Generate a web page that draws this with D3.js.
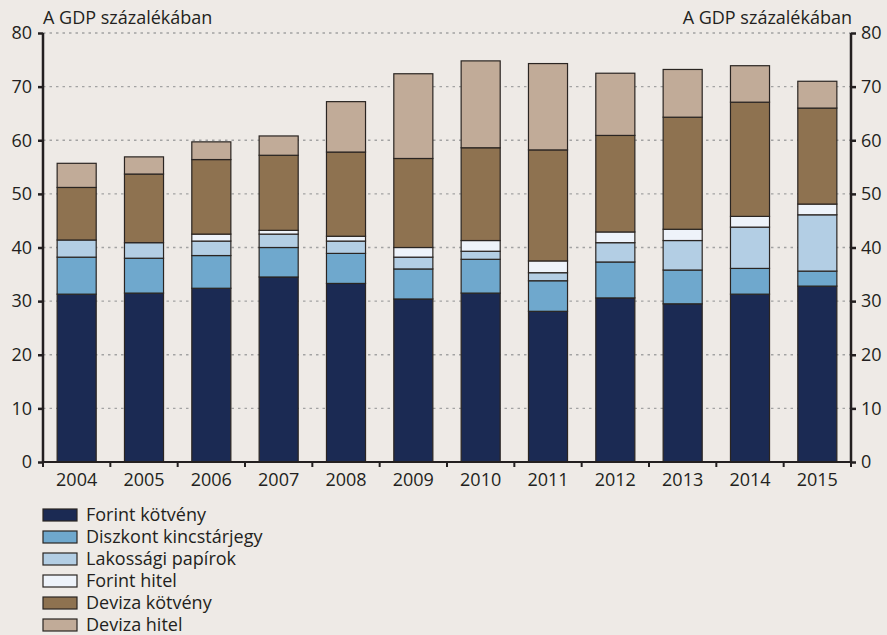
<!DOCTYPE html>
<html>
<head>
<meta charset="utf-8">
<script src="https://cdn.jsdelivr.net/npm/d3@7"></script>
<style>
  body { margin: 0; background: #eeeae6; }
  svg { display: block; }
</style>
</head>
<body>
<svg width="887" height="635" font-family="Open Sans, Noto Sans, sans-serif" font-size="18"></svg>
<script>
const years = ["2004", "2005", "2006", "2007", "2008", "2009", "2010", "2011", "2012", "2013", "2014", "2015"];
const seriesNames = ["Forint kötvény", "Diszkont kincstárjegy", "Lakossági papírok", "Forint hitel", "Deviza kötvény", "Deviza hitel"];
const forintKotveny = [31.3, 31.5, 32.4, 34.5, 33.3, 30.4, 31.5, 28.1, 30.6, 29.5, 31.3, 32.8];
const diszkont = [6.9, 6.5, 6.1, 5.5, 5.6, 5.6, 6.3, 5.7, 6.7, 6.3, 4.8, 2.8];
const lakossagi = [3.2, 2.9, 2.7, 2.5, 2.3, 2.2, 1.5, 1.5, 3.6, 5.5, 7.7, 10.5];
const forintHitel = [0, 0, 1.3, 0.7, 0.9, 1.8, 2.0, 2.2, 2.0, 2.1, 2.0, 2.0];
const devizaKotveny = [9.8, 12.8, 13.9, 14.0, 15.7, 16.6, 17.3, 20.7, 18.0, 20.9, 21.3, 17.9];
const devizaHitel = [4.5, 3.2, 3.3, 3.6, 9.4, 15.8, 16.2, 16.1, 11.6, 8.9, 6.8, 5.0];
const yTicks = [0, 10, 20, 30, 40, 50, 60, 70, 80];
const unitLabel = "A GDP százalékában";

const colors = ["#1b2a53", "#6fa8cd", "#b3cee4", "#eef3fa", "#8e7250", "#c1ab98"];
const ink = "#231f20";

const svg = d3.select("svg");
const margin = { top: 33, right: 36, bottom: 173, left: 43 };
const width = +svg.attr("width");
const height = +svg.attr("height");
const innerWidth = width - margin.left - margin.right;
const innerHeight = height - margin.top - margin.bottom;

const allSeries = [forintKotveny, diszkont, lakossagi, forintHitel, devizaKotveny, devizaHitel];
const data = years.map((y, i) => {
  const row = { year: y };
  seriesNames.forEach((s, k) => { row[s] = allSeries[k][i]; });
  return row;
});
const stacked = d3.stack().keys(seriesNames)(data);

const xScale = d3.scaleBand().domain(years).range([0, innerWidth]).paddingInner(0.42).paddingOuter(0.21);
const xBoundary = d3.scaleLinear().domain([0, years.length]).range([0, innerWidth]);
const yScale = d3.scaleLinear().domain([0, 80]).range([innerHeight, 0]);

const g = svg.append("g").attr("transform", `translate(${margin.left},${margin.top})`);

// gridlines
g.append("g")
  .selectAll("line")
  .data(yTicks.filter((d) => d > 0))
  .join("line")
  .attr("x1", 0)
  .attr("x2", innerWidth)
  .attr("y1", (d) => yScale(d))
  .attr("y2", (d) => yScale(d))
  .attr("stroke", "#a3a3a3")
  .attr("stroke-width", 1.3)
  .attr("stroke-dasharray", "2.5,4");

// bars
g.append("g")
  .selectAll("g")
  .data(stacked)
  .join("g")
  .attr("fill", (d, i) => colors[i])
  .selectAll("rect")
  .data((d) => d.filter((p) => p[1] - p[0] > 0))
  .join("rect")
  .attr("x", (d) => xScale(d.data.year))
  .attr("width", xScale.bandwidth())
  .attr("y", (d) => yScale(d[1]))
  .attr("height", (d) => yScale(d[0]) - yScale(d[1]))
  .attr("stroke", "#2a2522")
  .attr("stroke-width", 1.2);

// left and right axes
const yAxisL = g.append("g")
  .call(d3.axisLeft(yScale).tickValues(yTicks).tickSize(5).tickPadding(6));
const yAxisR = g.append("g")
  .attr("transform", `translate(${innerWidth},0)`)
  .call(d3.axisRight(yScale).tickValues(yTicks).tickSize(5).tickPadding(5));
[yAxisL, yAxisR].forEach((ax) => {
  ax.attr("font-size", null).attr("font-family", null);
  ax.select(".domain").attr("stroke", ink).attr("stroke-width", 2.5).attr("d", `M0,0V${innerHeight}`);
  ax.selectAll(".tick line").attr("stroke", ink).attr("stroke-width", 2.5);
  ax.selectAll(".tick text").attr("fill", ink);
});

// x axis
const xAxisG = g.append("g").attr("transform", `translate(0,${innerHeight})`);
xAxisG.append("line")
  .attr("x1", 0).attr("x2", innerWidth)
  .attr("stroke", ink).attr("stroke-width", 2);
xAxisG.selectAll("line.tick")
  .data(d3.range(years.length + 1))
  .join("line")
  .attr("class", "tick")
  .attr("x1", (d) => xBoundary(d))
  .attr("x2", (d) => xBoundary(d))
  .attr("y1", 0)
  .attr("y2", 5)
  .attr("stroke", ink)
  .attr("stroke-width", 2);
xAxisG.selectAll("text")
  .data(years)
  .join("text")
  .attr("x", (d) => xScale(d) + xScale.bandwidth() / 2)
  .attr("y", 24)
  .attr("text-anchor", "middle")
  .attr("fill", ink)
  .text((d) => d);

// unit labels
svg.append("text")
  .attr("x", margin.left)
  .attr("y", 24)
  .attr("fill", ink)
  .text(unitLabel);
svg.append("text")
  .attr("x", margin.left + innerWidth + 1)
  .attr("y", 24)
  .attr("text-anchor", "end")
  .attr("fill", ink)
  .text(unitLabel);

// legend
const legend = svg.append("g").attr("transform", "translate(43,509)");
const item = legend.selectAll("g")
  .data(seriesNames)
  .join("g")
  .attr("transform", (d, i) => `translate(0,${i * 22})`);
item.append("rect")
  .attr("width", 34)
  .attr("height", 12)
  .attr("fill", (d, i) => colors[i])
  .attr("stroke", "#2a2522")
  .attr("stroke-width", 1.2);
item.append("text")
  .attr("x", 43)
  .attr("y", 12)
  .attr("fill", ink)
  .text((d) => d);
</script>
</body>
</html>
